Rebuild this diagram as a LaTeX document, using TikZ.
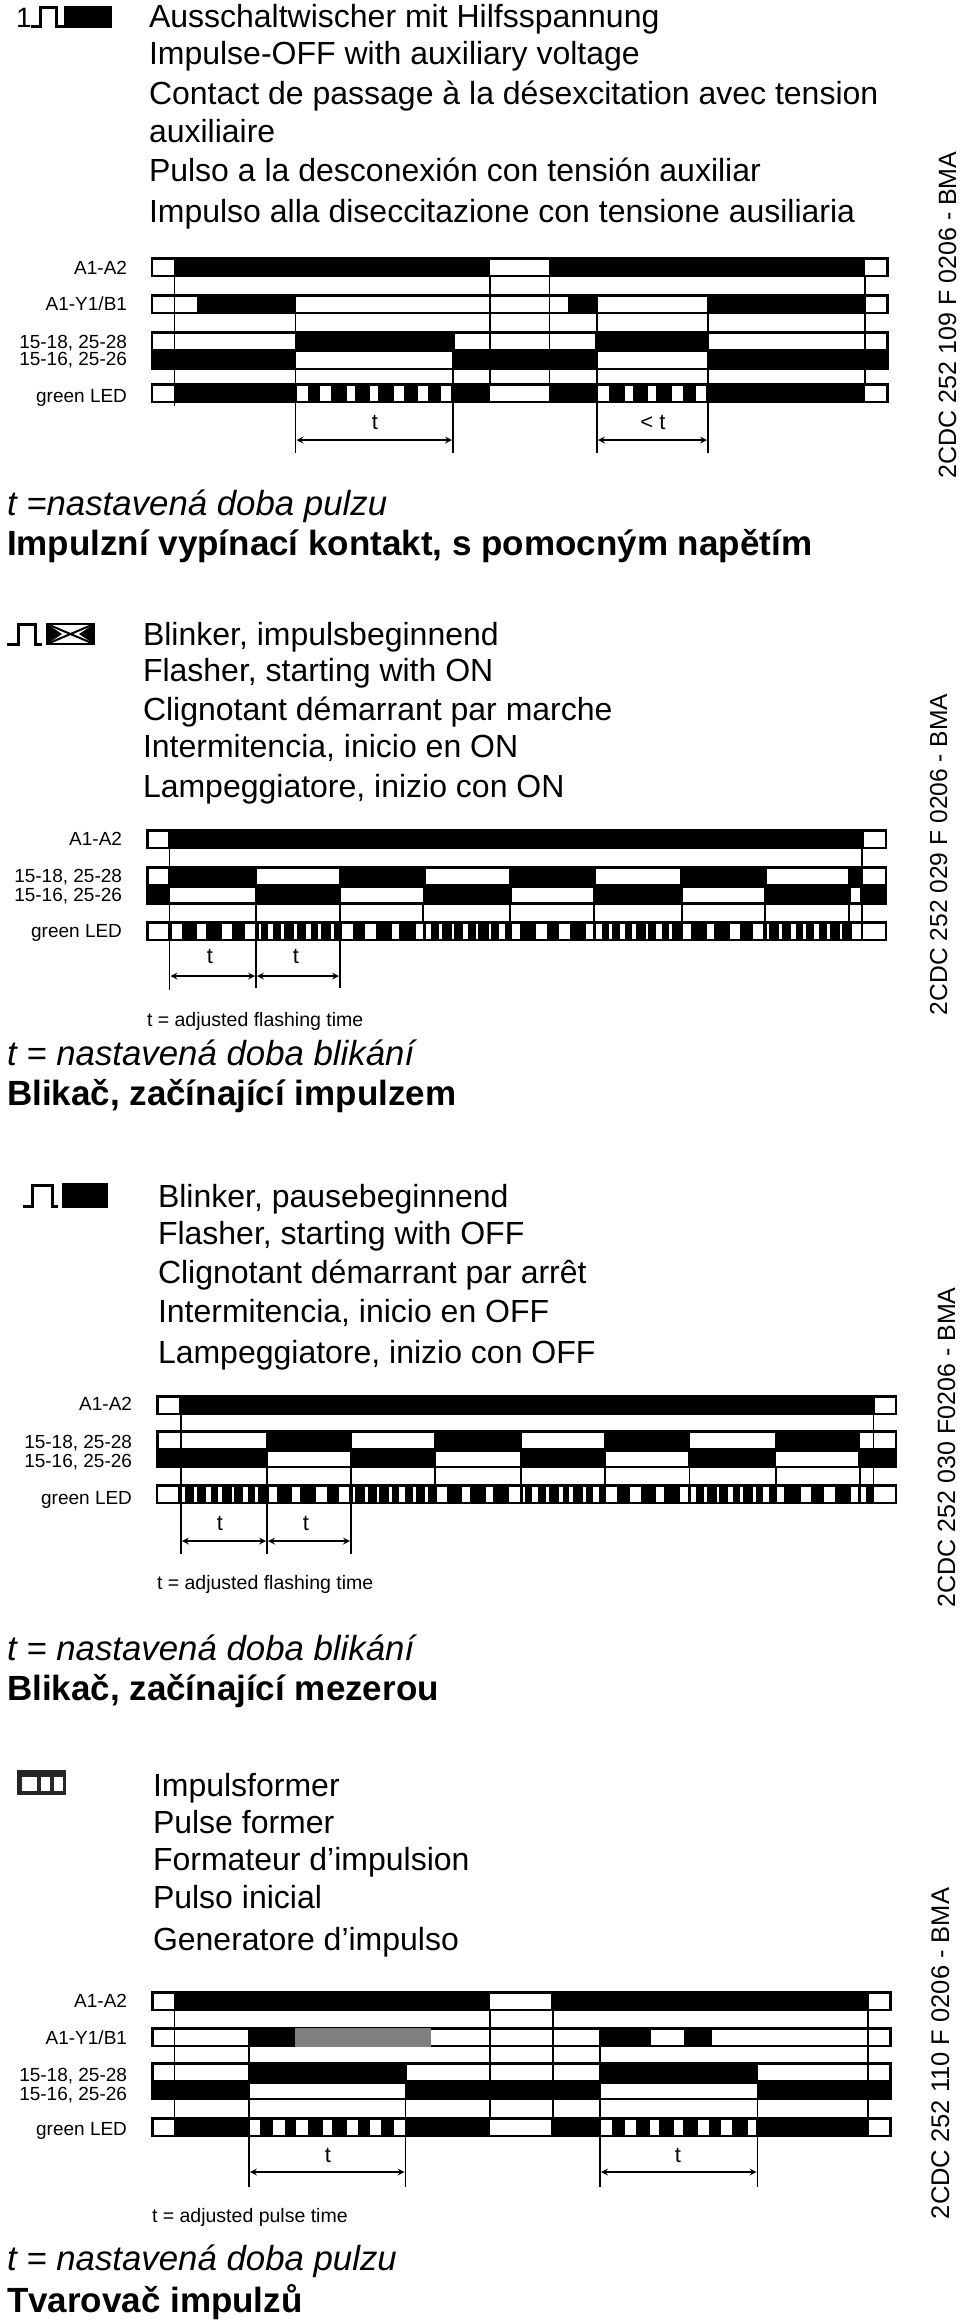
\documentclass[tikz,border=0pt]{standalone}
\usepackage{fontspec}
\setmainfont{Liberation Sans}

% black strip with white windows: left, right, top, bottom, windows
\newcommand{\timestrip}[5]{
  \fill[black] (#1,#3) rectangle (#2,#4);
  \foreach \a/\b in {#5} \fill[white] (\a,#3+2.5) rectangle (\b,#4-2.5);
}
% vertical guide lines: top, bottom, positions
\newcommand{\guides}[3]{
  \foreach \g in {#3} \draw[guide] (\g,#1) -- (\g,#2);
}

\begin{document}
\begin{tikzpicture}[x=1pt, y=-1pt,
    every node/.style={inner sep=0pt, outer sep=0pt},
    headtext/.style={anchor=base west, font=\fontsize{32}{34}\selectfont},
    captext/.style={anchor=base west, font=\fontsize{34.8}{36}\selectfont\itshape},
    titletext/.style={anchor=base west, font=\fontsize{35}{36}\selectfont\bfseries},
    rowlabel/.style={anchor=base east, yshift=-1pt, font=\fontsize{19}{20}\selectfont},
    notetext/.style={anchor=base west, yshift=-1pt, font=\fontsize{19.5}{20}\selectfont},
    codetext/.style={anchor=base west, rotate=90, font=\fontsize{25}{26}\selectfont},
    tlabel/.style={anchor=center, font=\fontsize{22}{24}\selectfont},
    guide/.style={black, line width=1.7pt},
    span/.style={black, line width=2pt, <->, >=stealth},
    pulse/.style={black, line width=3pt}]
  \useasboundingbox (0,0) rectangle (960,2323);

  % First block: texts
  \draw[pulse] (31,27) -- (40,27) -- (40,8) -- (56,8) -- (56,27) -- (64,27);
  \fill[black] (64,6) rectangle (112,28);
  \node[anchor=base, font=\fontsize{28}{30}\selectfont] (sym1) at (24,28) {1};
  \node[headtext] (h1a) at (149,28) {Ausschaltwischer mit Hilfsspannung};
  \node[headtext] (h1b) at (149,65) {Impulse-OFF with auxiliary voltage};
  \node[headtext] (h1c) at (149,104) {Contact de passage à la désexcitation avec tension};
  \node[headtext] (h1d) at (149,142) {auxiliaire};
  \node[headtext] (h1e) at (149,181) {Pulso a la desconexión con tensión auxiliar};
  \node[headtext] (h1f) at (149,222) {Impulso alla diseccitazione con tensione ausiliaria};
  \node[rowlabel] (r1a) at (127,273) {A1-A2};
  \node[rowlabel] (r1b) at (127,309) {A1-Y1/B1};
  \node[rowlabel] (r1c) at (127,347) {15-18, 25-28};
  \node[rowlabel] (r1d) at (127,364) {15-16, 25-26};
  \node[rowlabel] (r1e) at (127,401) {green LED};
  \node[codetext] (c1) at (956,478) {2CDC 252 109 F 0206 - BMA};
  \node[captext] (k1) at (7,515) {t =nastavená doba pulzu};
  \node[titletext] (n1) at (7,555) {Impulzní vypínací kontakt, s pomocným napětím};

  % First block: strips
  \timestrip{151}{889}{257}{277}{153/174, 490/549, 865/886}
  \timestrip{151}{889}{294}{314}{153/197, 296/568, 598/707, 865/886}
  \timestrip{151}{889}{331}{351}{153/295, 455/595, 708/886}
  \timestrip{151}{889}{349}{370}{296/452, 598/707}
  \timestrip{151}{889}{383}{403}{153/174, 297/308, 320/331, 347/355, 370/378, 394/404, 418/428, 441/451, 490/549, 598/609, 625/633, 648/656, 672/683, 696/706, 865/886}
  \guides{277}{406}{174.5}
  \guides{277}{383}{490, 549.5, 865}
  \guides{314}{453}{295.5, 597, 708}
  \guides{370}{453}{453}
  \coordinate (s1a) at (296.5,440);
  \coordinate (s1b) at (452,440);
  \coordinate (s1c) at (598,440);
  \coordinate (s1d) at (707,440);
  \draw[span] (s1a) -- (s1b);
  \draw[span] (s1c) -- (s1d);
  \node[tlabel] (t1a) at (375,422) {t};
  \node[tlabel] (t1b) at (653,422) {< t};

  % Second block: texts
  \draw[pulse] (7,644) -- (18,644) -- (18,624) -- (35,624) -- (35,644) -- (42,644);
  \draw[black, line width=2pt] (47,624) rectangle (94,644);
  \fill[black] (47,624) -- (62,634) -- (47,644) -- cycle;
  \fill[black] (94,624) -- (79,634) -- (94,644) -- cycle;
  \draw[black, line width=2pt] (47,624) -- (94,644);
  \draw[black, line width=2pt] (47,644) -- (94,624);
  \node[headtext] (h2a) at (143,645) {Blinker, impulsbeginnend};
  \node[headtext] (h2b) at (143,681) {Flasher, starting with ON};
  \node[headtext] (h2c) at (143,720) {Clignotant démarrant par marche};
  \node[headtext] (h2d) at (143,757) {Intermitencia, inicio en ON};
  \node[headtext] (h2e) at (143,797) {Lampeggiatore, inizio con ON};
  \node[rowlabel] (r2a) at (122,844) {A1-A2};
  \node[rowlabel] (r2c) at (122,881) {15-18, 25-28};
  \node[rowlabel] (r2d) at (122,900) {15-16, 25-26};
  \node[rowlabel] (r2e) at (122,936) {green LED};
  \node[codetext, font=\fontsize{24.6}{26}\selectfont] (c2) at (947,1015) {2CDC 252 029 F 0206 - BMA};
  \node[notetext] (m2) at (147,1025) {t = adjusted flashing time};
  \node[captext] (k2) at (7,1065) {t = nastavená doba blikání};
  \node[titletext] (n2) at (7,1105) {Blikač, začínající impulzem};

  % Second block: strips
  \timestrip{146}{887}{829}{849}{149/168, 864/885}
  \timestrip{146}{887}{866}{886}{149/168, 257/339, 426/509, 596/680, 767/848, 863/885}
  \timestrip{146}{887}{885}{904.5}{170/255, 341/423, 512/593, 683/764, 851/860}
  \timestrip{146}{887}{921}{941}{149/168, 172/182, 197/206, 222/232, 245/255, 259/261, 268/273, 281/284, 294/297, 306/311, 318/321, 331/334, 342/353, 365/376, 392/399, 416/423, 426/431, 439/442, 452/454, 463/468, 476/478, 489/491, 499/505, 512/520, 536/547, 559/570, 586/593, 596/602, 609/612, 620/625, 632/636, 646/648, 656/662, 669/672, 683/691, 707/714, 730/740, 753/763, 767/769, 779/782, 791/796, 803/806, 814/819, 827/830, 840/842, 852/861, 863/885}
  \guides{849}{990}{169.5}
  \guides{904}{988}{256, 340}
  \guides{904}{921}{423, 510, 594, 682, 765, 849}
  \guides{849}{921}{862}
  \coordinate (s2a) at (170.5,976);
  \coordinate (s2b) at (255,976);
  \coordinate (s2c) at (257,976);
  \coordinate (s2d) at (339,976);
  \draw[span] (s2a) -- (s2b);
  \draw[span] (s2c) -- (s2d);
  \node[tlabel] (t2a) at (210,956) {t};
  \node[tlabel] (t2b) at (296,956) {t};

  % Third block: texts
  \draw[pulse] (23,1206) -- (32,1206) -- (32,1185) -- (52,1185) -- (52,1206) -- (58,1206);
  \fill[black] (62,1183) rectangle (108,1208);
  \node[headtext] (h3a) at (158,1207) {Blinker, pausebeginnend};
  \node[headtext] (h3b) at (158,1244) {Flasher, starting with OFF};
  \node[headtext] (h3c) at (158,1283) {Clignotant démarrant par arrêt};
  \node[headtext] (h3d) at (158,1322) {Intermitencia, inicio en OFF};
  \node[headtext] (h3e) at (158,1363) {Lampeggiatore, inizio con OFF};
  \node[rowlabel] (r3a) at (132,1409) {A1-A2};
  \node[rowlabel] (r3c) at (132,1447) {15-18, 25-28};
  \node[rowlabel] (r3d) at (132,1466) {15-16, 25-26};
  \node[rowlabel] (r3e) at (132,1503) {green LED};
  \node[codetext] (c3) at (955,1607) {2CDC 252 030 F0206 - BMA};
  \node[notetext] (m3) at (157,1588) {t = adjusted flashing time};
  \node[captext] (k3) at (7,1660) {t = nastavená doba blikání};
  \node[titletext] (n3) at (7,1700) {Blikač, začínající mezerou};

  % Third block: strips
  \timestrip{156}{897}{1395}{1415}{159/179, 875/895}
  \timestrip{156}{897}{1430}{1450}{159/266, 352/434, 522/604, 690/775, 860/895}
  \timestrip{156}{897}{1449}{1468}{268/350, 436/520, 606/688, 776/858}
  \timestrip{156}{897}{1484}{1504}{158/178, 182/185, 194/197, 206/211, 218/222, 232/234, 243/248, 255/258, 269/277, 292/300, 316/327, 339/349, 353/355, 365/368, 377/379, 389/392, 399/405, 413/416, 425/428, 437/447, 462/470, 486/493, 509/520, 523/525, 532/538, 546/549, 559/563, 569/573, 583/586, 593/599, 606/617, 630/641, 656/664, 680/688, 691/696, 704/707, 717/719, 728/733, 740/743, 753/756, 763/769, 777/784, 801/811, 824/835, 851/858, 861/866, 874/895}
  \guides{1415}{1554}{181}
  \guides{1468}{1554}{267, 351}
  \guides{1468}{1484}{435, 521, 605, 689.5, 776, 860}
  \guides{1415}{1484}{873.5}
  \coordinate (s3a) at (182,1541);
  \coordinate (s3b) at (266,1541);
  \coordinate (s3c) at (268,1541);
  \coordinate (s3d) at (350,1541);
  \draw[span] (s3a) -- (s3b);
  \draw[span] (s3c) -- (s3d);
  \node[tlabel] (t3a) at (220,1523) {t};
  \node[tlabel] (t3b) at (306,1523) {t};

  % Fourth block: texts
  \fill[black!85] (17,1770) rectangle (66,1795);
  \fill[white] (22,1777) rectangle (37,1791);
  \fill[white] (41,1777) rectangle (50,1791);
  \fill[white] (54,1777) rectangle (63,1791);
  \node[headtext] (h4a) at (153,1796) {Impulsformer};
  \node[headtext] (h4b) at (153,1833) {Pulse former};
  \node[headtext] (h4c) at (153,1870) {Formateur d'impulsion};
  \node[headtext] (h4d) at (153,1908) {Pulso inicial};
  \node[headtext] (h4e) at (153,1950) {Generatore d'impulso};
  \node[rowlabel] (r4a) at (127,2006) {A1-A2};
  \node[rowlabel] (r4b) at (127,2043) {A1-Y1/B1};
  \node[rowlabel] (r4c) at (127,2080) {15-18, 25-28};
  \node[rowlabel] (r4d) at (127,2099) {15-16, 25-26};
  \node[rowlabel] (r4e) at (127,2134) {green LED};
  \node[codetext, font=\fontsize{25.5}{26}\selectfont] (c4) at (949,2219) {2CDC 252 110 F 0206 - BMA};
  \node[notetext] (m4) at (152,2221) {t = adjusted pulse time};
  \node[captext] (k4) at (7,2270) {t = nastavená doba pulzu};
  \node[titletext] (n4) at (7,2312) {Tvarovač impulzů};

  % Fourth block: strips
  \timestrip{151}{892}{1991}{2011}{154/174, 490/551, 869/889}
  \timestrip{151}{892}{2027}{2047}{154/248, 431/599, 651/684, 712/889}
  \fill[black!50] (294.5,2028) rectangle (431,2046.5);
  \timestrip{151}{892}{2062}{2082}{154/248, 407/599, 758/889}
  \timestrip{151}{892}{2081}{2100}{250/405, 601/757}
  \timestrip{151}{892}{2117}{2137}{154/174, 250/260, 273/285, 296/308, 323/332, 347/358, 370/381, 394/405, 490/551, 601/612, 625/636, 650/659, 674/683, 698/709, 721/732, 748/756, 869/889}
  \guides{2011}{2117}{174.5, 490, 553, 868}
  \guides{2047}{2187}{249, 600}
  \guides{2100}{2187}{405.5, 757.5}
  \coordinate (s4a) at (250,2172);
  \coordinate (s4b) at (404.5,2172);
  \coordinate (s4c) at (601,2172);
  \coordinate (s4d) at (756.5,2172);
  \draw[span] (s4a) -- (s4b);
  \draw[span] (s4c) -- (s4d);
  \node[tlabel] (t4a) at (328,2155) {t};
  \node[tlabel] (t4b) at (678,2155) {t};
\end{tikzpicture}
\end{document}
